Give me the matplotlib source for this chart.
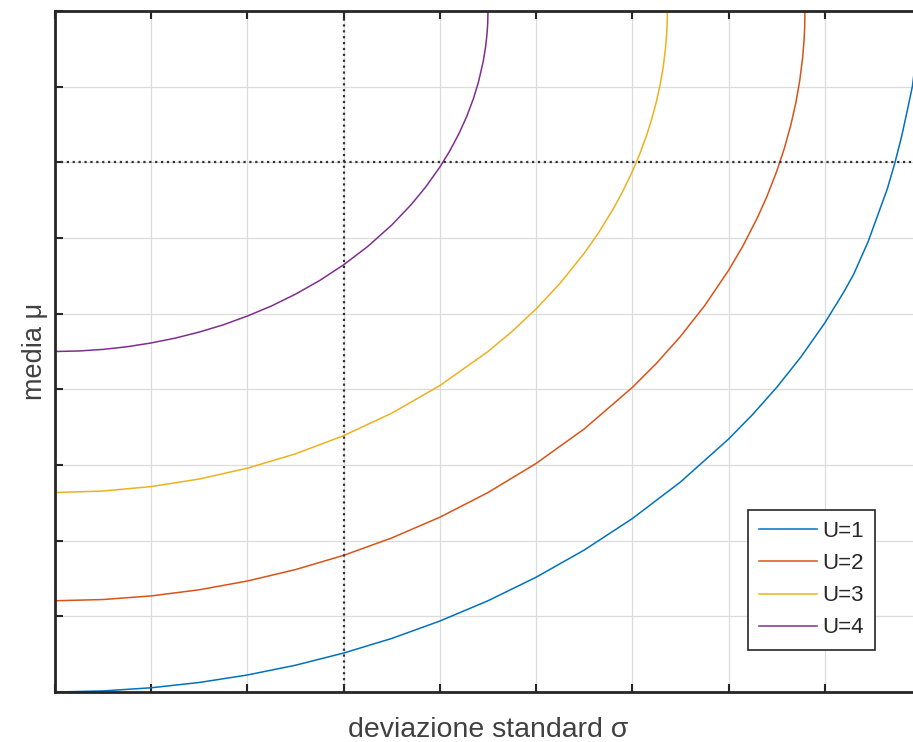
import matplotlib
matplotlib.use("Agg")
import matplotlib.pyplot as plt

plt.rcParams["font.family"] = ["Liberation Sans", "DejaVu Sans"]

# Curve di indifferenza (unita' di griglia)
sigma_u1 = [0, 0.5, 1, 1.5, 2, 2.5, 3, 3.5, 4, 4.5, 5, 5.5, 6, 6.5, 7, 7.25, 7.5, 7.75, 8,
            8.2, 8.3, 8.45, 8.55, 8.65, 8.73, 8.8, 8.86, 8.91, 8.95, 8.975, 8.99, 9.0]
mu_u1 = [0.0, 0.014, 0.056, 0.126, 0.225, 0.354, 0.515, 0.708, 0.938, 1.206, 1.517, 1.876, 2.292,
         2.775, 3.343, 3.667, 4.025, 4.424, 4.877, 5.291, 5.52, 5.95, 6.3, 6.65, 7.0, 7.35, 7.7,
         8.0, 8.4, 8.7, 8.9, 9.0]

sigma_u2 = [0, 0.5, 1, 1.5, 2, 2.5, 3, 3.5, 4, 4.5, 5, 5.5, 6, 6.25, 6.5, 6.75, 7, 7.15, 7.3,
            7.4, 7.5, 7.58, 7.65, 7.7, 7.74, 7.77, 7.785, 7.791, 7.794]
mu_u2 = [1.206, 1.222, 1.270, 1.351, 1.467, 1.618, 1.806, 2.036, 2.310, 2.636, 3.021, 3.477, 4.025,
         4.343, 4.699, 5.103, 5.572, 5.897, 6.269, 6.553, 6.879, 7.185, 7.508, 7.792, 8.082, 8.386,
         8.621, 8.776, 9.0]

sigma_u3 = [0, 0.5, 1, 1.5, 2, 2.5, 3, 3.5, 4, 4.5, 4.75, 5, 5.25, 5.5, 5.65, 5.8, 5.9, 6.0,
            6.08, 6.15, 6.2, 6.25, 6.29, 6.32, 6.345, 6.357, 6.3625, 6.364]
mu_u3 = [2.636, 2.656, 2.715, 2.815, 2.958, 3.148, 3.388, 3.685, 4.050, 4.5, 4.765, 5.063, 5.403,
         5.798, 6.071, 6.381, 6.615, 6.879, 7.120, 7.364, 7.565, 7.801, 8.033, 8.253, 8.509, 8.702,
         8.864, 9.0]

sigma_u4 = [0, 0.25, 0.5, 0.75, 1.0, 1.25, 1.5, 1.75, 2.0, 2.25, 2.5, 2.75, 3.0, 3.25, 3.5, 3.7,
            3.85, 4.0, 4.1, 4.2, 4.28, 4.35, 4.4, 4.45, 4.475, 4.49, 4.497, 4.5]
mu_u4 = [4.5, 4.507, 4.528, 4.563, 4.613, 4.677, 4.757, 4.853, 4.969, 5.102, 5.258, 5.438, 5.646,
         5.888, 6.172, 6.439, 6.670, 6.938, 7.145, 7.384, 7.610, 7.848, 8.057, 8.331, 8.526,
         8.700, 8.836, 9.0]

labels = ["U=1", "U=2", "U=3", "U=4"]
colors = ["#0072BD", "#D95319", "#EDB120", "#7E2F8E"]

# linee tratteggiate di riferimento
sigma_ref = 3
mu_ref = 7

fig = plt.figure(figsize=(9.13, 7.42), dpi=100)
ax = fig.add_axes([55 / 913, 1 - 692 / 742, 866 / 913, 681 / 742])

curves = [(sigma_u1, mu_u1), (sigma_u2, mu_u2), (sigma_u3, mu_u3), (sigma_u4, mu_u4)]
for (s, m), lab, col in zip(curves, labels, colors):
    ax.plot(s, m, color=col, lw=1.1, label=lab)

ax.axvline(sigma_ref, color="#333333", ls=":", lw=1.6)
ax.axhline(mu_ref, color="#333333", ls=":", lw=1.6)

ax.set_xlim(0, 9)
ax.set_ylim(0, 9)
ax.set_xticks(range(10))
ax.set_yticks(range(10))
ax.grid(True, color="#dcdcdc", lw=0.9)
ax.set_axisbelow(True)
ax.tick_params(direction="in", length=6, width=1.5, color="#262626",
               top=True, right=True, labelbottom=False, labelleft=False)
for sp in ax.spines.values():
    sp.set_linewidth(2)
    sp.set_color("#262626")

ax.set_xlabel("deviazione standard σ", fontsize=20.5, color="#404040", labelpad=18)
ax.set_ylabel("media μ", fontsize=19.5, color="#404040", labelpad=5)

leg = ax.legend(loc="upper left", bbox_to_anchor=(748 / 913, 1 - 510 / 742),
                bbox_transform=fig.transFigure, borderaxespad=0, fontsize=16,
                fancybox=False, framealpha=1, edgecolor="#262626",
                handlelength=2.6, handletextpad=0.25, labelspacing=0.5, borderpad=0.5)
leg.get_frame().set_linewidth(1.2)
for t in leg.get_texts():
    t.set_color("#262626")

plt.savefig("out.png", dpi=100)
plt.close()
